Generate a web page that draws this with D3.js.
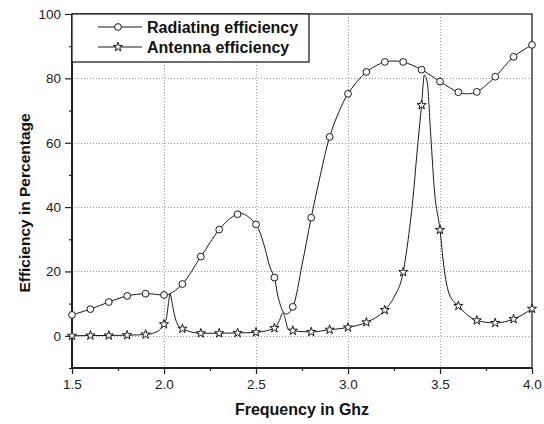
<!DOCTYPE html>
<html>
<head>
<meta charset="utf-8">
<script src="https://cdn.jsdelivr.net/npm/d3@7"></script>
<style>
  html, body { margin: 0; padding: 0; background: #fff; }
  svg { display: block; font-family: "Liberation Sans", Arial, sans-serif; }
</style>
</head>
<body>
<svg id="chart" width="544" height="424"></svg>
<script>
// ---- Data ----
const markerFreq = [1.5, 1.6, 1.7, 1.8, 1.9, 2.0, 2.1, 2.2, 2.3, 2.4, 2.5, 2.6, 2.7, 2.8, 2.9, 3.0, 3.1, 3.2, 3.3, 3.4, 3.5, 3.6, 3.7, 3.8, 3.9, 4.0];
const radiatingMarkers = [6.5, 8.3, 10.5, 12.4, 13.1, 12.7, 16.1, 24.6, 33.0, 37.8, 34.6, 18.1, 9.0, 36.7, 61.8, 75.2, 82.0, 85.1, 85.1, 82.7, 79.0, 75.7, 75.8, 80.5, 86.7, 90.4];
const antennaMarkers = [0.0, 0.1, 0.1, 0.2, 0.4, 3.6, 2.2, 0.8, 0.8, 0.9, 1.1, 2.4, 1.6, 1.2, 1.9, 2.6, 4.2, 8.0, 19.8, 71.7, 32.9, 9.3, 4.8, 4.0, 5.2, 8.4];

// continuous traces (denser readings of the drawn curves)
const radiatingCurveFreq = [1.5, 1.6, 1.7, 1.8, 1.9, 2.0, 2.03, 2.1, 2.2, 2.3, 2.36, 2.4, 2.43, 2.5, 2.54, 2.575, 2.6, 2.62, 2.65, 2.67, 2.7, 2.75, 2.8, 2.85, 2.9, 2.95, 3.0, 3.1, 3.2, 3.25, 3.3, 3.4, 3.5, 3.6, 3.65, 3.7, 3.8, 3.9, 4.0];
const radiatingCurve = [6.5, 8.3, 10.5, 12.4, 13.1, 12.7, 13.0, 16.1, 24.6, 33.0, 36.5, 37.8, 37.9, 34.6, 28.9, 21.5, 18.1, 12.1, 7.3, 6.8, 9.0, 22.0, 36.7, 50.0, 61.8, 69.5, 75.2, 82.0, 85.1, 85.4, 85.1, 82.7, 79.0, 75.7, 75.2, 75.8, 80.5, 86.7, 90.4];
const antennaCurveFreq = [1.5, 1.6, 1.7, 1.8, 1.9, 1.95, 2.0, 2.015, 2.024, 2.033, 2.045, 2.055, 2.07, 2.1, 2.2, 2.3, 2.4, 2.5, 2.6, 2.625, 2.647, 2.66, 2.675, 2.7, 2.8, 2.9, 3.0, 3.1, 3.2, 3.25, 3.3, 3.32, 3.35, 3.38, 3.4, 3.415, 3.43, 3.45, 3.47, 3.5, 3.52, 3.55, 3.6, 3.7, 3.8, 3.9, 4.0];
const antennaCurve = [0.0, 0.1, 0.1, 0.2, 0.4, 1.0, 3.6, 6.0, 10.0, 13.0, 10.0, 7.0, 4.0, 2.2, 0.8, 0.8, 0.9, 1.1, 2.4, 4.5, 7.2, 5.0, 2.0, 1.6, 1.2, 1.9, 2.6, 4.2, 8.0, 12.0, 19.8, 27.0, 41.0, 60.0, 71.7, 81.0, 79.0, 62.0, 45.0, 32.9, 22.0, 13.0, 9.3, 4.8, 4.0, 5.2, 8.4];

const xTicks = [1.5, 2.0, 2.5, 3.0, 3.5, 4.0];
const xMinorTicks = [1.75, 2.25, 2.75, 3.25, 3.75];
const yTicks = [0, 20, 40, 60, 80, 100];
const yMinorTicks = [-10, 10, 30, 50, 70, 90];
const xGrid = [2.0, 2.5, 3.0, 3.5];
const yGrid = [0, 20, 40, 60, 80];
const seriesNames = ["Radiating efficiency", "Antenna efficiency"];
const xTitle = "Frequency in Ghz";
const yTitle = "Efficiency in Percentage";

// ---- Layout ----
const L = 72, R = 532, T = 14, B = 368;
const svg = d3.select("#chart");
const x = d3.scaleLinear().domain([1.5, 4.0]).range([L, R]);
const y = d3.scaleLinear().domain([-10, 100]).range([B, T]);

// grid
const grid = svg.append("g").attr("stroke", "#9a9a9a").attr("stroke-width", 1).attr("stroke-dasharray", "1,2");
grid.selectAll("line.gx").data(xGrid).join("line")
  .attr("x1", d => Math.round(x(d)) + 0.5).attr("x2", d => Math.round(x(d)) + 0.5)
  .attr("y1", T).attr("y2", B);
grid.selectAll("line.gy").data(yGrid).join("line")
  .attr("y1", d => Math.round(y(d)) + 0.5).attr("y2", d => Math.round(y(d)) + 0.5)
  .attr("x1", L).attr("x2", R);

// axes
const fmtX = d3.format(".1f");
const xAxis = svg.append("g").attr("transform", `translate(0,${B})`)
  .call(d3.axisBottom(x).tickValues(xTicks).tickFormat(fmtX).tickSize(6).tickPadding(5));
const xMinor = svg.append("g").attr("transform", `translate(0,${B})`)
  .call(d3.axisBottom(x).tickValues(xMinorTicks).tickFormat("").tickSize(3));
const yAxis = svg.append("g").attr("transform", `translate(${L},0)`)
  .call(d3.axisLeft(y).tickValues(yTicks).tickFormat(d3.format("d")).tickSize(7).tickPadding(4));
const yMinor = svg.append("g").attr("transform", `translate(${L},0)`)
  .call(d3.axisLeft(y).tickValues(yMinorTicks).tickFormat("").tickSize(3));
[xAxis, xMinor, yAxis, yMinor].forEach(g => {
  g.select(".domain").remove();
  g.selectAll(".tick line").attr("stroke", "#222").attr("stroke-width", 1.2);
  g.selectAll(".tick text").attr("fill", "#222").attr("font-size", 13.5)
    .attr("font-family", "Liberation Sans, Arial, sans-serif");
});

// frame
svg.append("rect").attr("x", L).attr("y", T).attr("width", R - L).attr("height", B - T)
  .attr("fill", "none").attr("stroke", "#222").attr("stroke-width", 1.3);
svg.append("line").attr("x1", L).attr("x2", L).attr("y1", T).attr("y2", B + 0.7).attr("stroke", "#222").attr("stroke-width", 2);
svg.append("line").attr("x1", L).attr("x2", R).attr("y1", B).attr("y2", B).attr("stroke", "#222").attr("stroke-width", 2);

// curves
const lineSmooth = d3.line().x(d => x(d[0])).y(d => y(d[1])).curve(d3.curveCatmullRom.alpha(0.5));
const lineSharp = d3.line().x(d => x(d[0])).y(d => y(d[1])).curve(d3.curveMonotoneX);
const plot = svg.append("g");
plot.append("path").datum(radiatingCurveFreq.map((f, i) => [f, radiatingCurve[i]]))
  .attr("d", lineSmooth).attr("fill", "none").attr("stroke", "#1a1a1a").attr("stroke-width", 1);
plot.append("path").datum(antennaCurveFreq.map((f, i) => [f, antennaCurve[i]]))
  .attr("d", lineSharp).attr("fill", "none").attr("stroke", "#1a1a1a").attr("stroke-width", 1);

const star = d3.symbol().type(d3.symbolStar).size(26);
plot.selectAll("circle.rm").data(markerFreq.map((f, i) => [f, radiatingMarkers[i]])).join("circle")
  .attr("cx", d => x(d[0])).attr("cy", d => y(d[1])).attr("r", 3.4)
  .attr("fill", "#fff").attr("stroke", "#1a1a1a").attr("stroke-width", 1);
plot.selectAll("path.am").data(markerFreq.map((f, i) => [f, antennaMarkers[i]])).join("path")
  .attr("d", star).attr("transform", d => `translate(${x(d[0])},${y(d[1])})`)
  .attr("fill", "#fff").attr("stroke", "#1a1a1a").attr("stroke-width", 1);

// legend
const lg = svg.append("g");
lg.append("rect").attr("x", L).attr("y", T).attr("width", 237).attr("height", 48)
  .attr("fill", "#fff").attr("stroke", "#222").attr("stroke-width", 1.3);
const rows = [27, 47];
rows.forEach((ry, i) => {
  lg.append("line").attr("x1", 98).attr("x2", 142).attr("y1", ry).attr("y2", ry).attr("stroke", "#1a1a1a").attr("stroke-width", 1);
  if (i === 0) {
    lg.append("circle").attr("cx", 118).attr("cy", ry).attr("r", 3.4).attr("fill", "#fff").attr("stroke", "#1a1a1a");
  } else {
    lg.append("path").attr("d", star).attr("transform", `translate(118,${ry})`).attr("fill", "#fff").attr("stroke", "#1a1a1a");
  }
  lg.append("text").attr("x", 147).attr("y", ry + 6).attr("font-size", 16).attr("font-weight", "bold")
    .attr("fill", "#111").text(seriesNames[i]);
});

// titles
svg.append("text").attr("x", (L + R) / 2).attr("y", 415).attr("text-anchor", "middle")
  .attr("font-size", 16).attr("font-weight", "bold").attr("fill", "#111").text(xTitle);
svg.append("text").attr("transform", "translate(30,203) rotate(-90)").attr("text-anchor", "middle")
  .attr("font-size", 15.5).attr("font-weight", "bold").attr("fill", "#111").text(yTitle);
</script>
</body>
</html>
